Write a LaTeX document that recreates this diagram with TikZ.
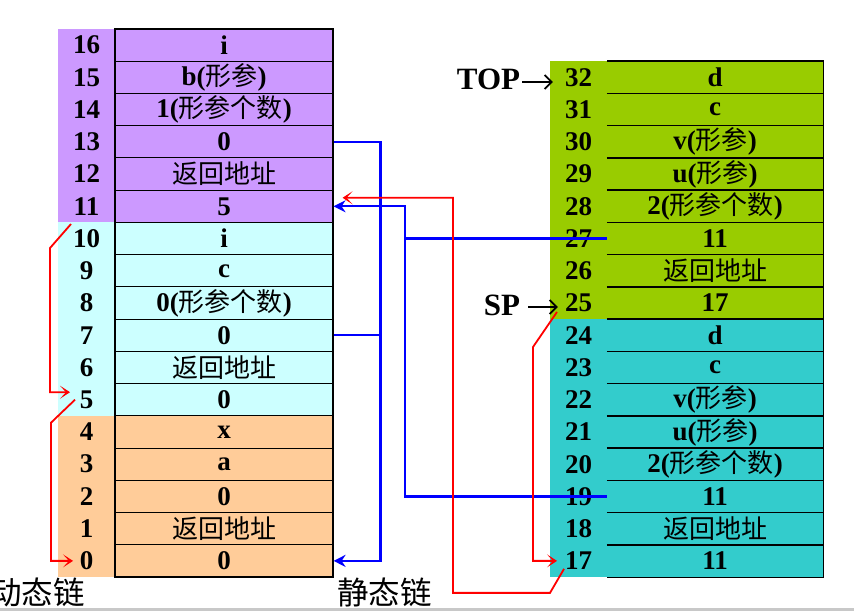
\documentclass[tikz,border=0pt]{standalone}
\usepackage{fontspec}
\setmainfont{Liberation Serif}
\newfontfamily\zhfont{Noto Sans CJK SC}
\usetikzlibrary{arrows.meta}
\newcommand\zh[1]{{\zhfont\mdseries\fontsize{26}{28}\selectfont #1}}
\definecolor{cpurple}{HTML}{CC99FF}
\definecolor{clcyan}{HTML}{CCFFFF}
\definecolor{corange}{HTML}{FFCC99}
\definecolor{cgreen}{HTML}{99CC00}
\definecolor{cteal}{HTML}{33CCCC}
\definecolor{cgray}{HTML}{C8C8C8}
\tikzset{
  num/.style={minimum width=57pt, minimum height=32.235pt, inner sep=0pt, font=\fontsize{27}{29}\selectfont\bfseries},
  cellL/.style={draw=black, line width=1.1pt, minimum width=218pt, minimum height=32.235pt, inner sep=0pt, font=\fontsize{27}{29}\selectfont\bfseries},
  cellR/.style={minimum width=216pt, minimum height=32.235pt, inner sep=0pt, font=\fontsize{27}{29}\selectfont\bfseries},
  rrule/.style={draw=black, line width=1.1pt},
  bigtxt/.style={inner sep=0pt, font=\fontsize{31}{33}\selectfont\bfseries},
  zhlabel/.style={inner sep=0pt, font=\zhfont\mdseries\fontsize{31.5}{33}\selectfont},
  blueline/.style={draw=blue, line width=2.2pt},
  redline/.style={draw=red, line width=1.8pt},
  bluearrow/.style={blueline, -{Stealth[length=12pt,width=12pt,inset=4pt]}},
  redarrow/.style={redline, -{Stealth[length=10pt,width=13pt,inset=6pt]}},
  blackarrow/.style={draw=black, line width=1.8pt, -{Straight Barb[length=7pt,width=14pt]}}
}
\begin{document}
\begin{tikzpicture}[x=1pt,y=-1pt]
\useasboundingbox (0,0) rectangle (854,612);
% backgrounds
\fill[cpurple] (58,29) rectangle (333,222.3);
\fill[clcyan] (58,222.3) rectangle (333,416);
\fill[corange] (58,416) rectangle (333,577);
\fill[cgreen] (550,61) rectangle (823,319);
\fill[cteal] (550,319) rectangle (823,577);
% left stack
\foreach \k/\t in {16/i, 15/b(\zh{形参}), 14/1(\zh{形参个数}), 13/0, 12/\zh{返回地址}, 11/5,
  10/i, 9/c, 8/0(\zh{形参个数}), 7/0, 6/\zh{返回地址}, 5/0, 4/x, 3/a, 2/0, 1/\zh{返回地址}, 0/0}{
  \node[num] (L\k) at (86.5, {577-(\k+0.5)*32.235}) {\k};
  \node[cellL] (C\k) at (224, {577-(\k+0.5)*32.235}) {\t};
}
% right stack
\foreach \k/\t in {32/d, 31/c, 30/v(\zh{形参}), 29/u(\zh{形参}), 28/2(\zh{形参个数}), 27/11, 26/\zh{返回地址}, 25/17,
  24/d, 23/c, 22/v(\zh{形参}), 21/u(\zh{形参}), 20/2(\zh{形参个数}), 19/11, 18/\zh{返回地址}, 17/11}{
  \node[num] (R\k) at (578.5, {577-(\k-16.5)*32.235}) {\k};
  \node[cellR] (D\k) at (715, {577-(\k-16.5)*32.235}) {\t};
  \draw[rrule] (D\k.north west) -- (D\k.north east) -- (D\k.south east) -- (D\k.south west);
}
% TOP and SP
\node[bigtxt] (top) at (488.5,79) {TOP};
\node[bigtxt] (sp) at (502,305.5) {SP};
\draw[blackarrow] ([xshift=2pt,yshift=-3pt]top.east) -- ([xshift=3pt,yshift=-3pt]top.east -| R32.west);
\draw[blackarrow] ([xshift=8pt,yshift=-1.5pt]sp.east) -- ([xshift=8pt,yshift=-1.5pt]sp.east -| R25.west);
% static chain (blue)
\coordinate (sx) at (380.5,0);
\coordinate (sx2) at (405,0);
\draw[bluearrow] (C13.east) -- (C13.east -| sx) -- (C0.east -| sx) -- (C0.east);
\draw[blueline] (C7.east) -- (C7.east -| sx);
\draw[bluearrow] (D27.west) -- (D27.west -| sx2) -- (C11.east -| sx2) -- (C11.east);
\draw[blueline] (D19.west) -- (D19.west -| sx2) -- (D27.west -| sx2);
% dynamic chain (red)
\draw[redarrow] ([shift={(-15.5,-14.5)}]L10.center) -- ++(-21,24) |- ([shift={(-16.5,-7.5)}]L5.center);
\draw[redarrow] ([shift={(-11.5,0)}]L5.center) -- ++(-24,23) |- ([shift={(-13.5,0)}]L0.center);
\draw[redarrow] ([shift={(-21.5,9)}]R25.center) -- ++(-24,35) |- ([shift={(-21.5,0)}]R17.center);
\draw[redarrow] ([shift={(-14.5,8)}]R17.center) -- ++(-14,24) -- ++(-97,0) |- ([shift={(9,-8.5)}]C11.east);
% labels
\node[zhlabel] (dyn) at (37.5,592) {动态链};
\node[zhlabel] (sta) at (384.5,592) {静态链};
% bottom slide edge
\draw[cgray, line width=2.5pt] (0,609.5) -- (854,609.5);
\end{tikzpicture}
\end{document}
